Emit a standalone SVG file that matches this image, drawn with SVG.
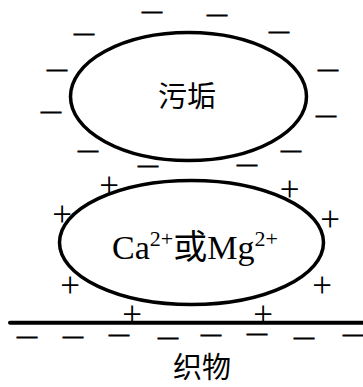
<svg xmlns="http://www.w3.org/2000/svg" width="363" height="387" viewBox="0 0 363 387">
<style>
.ell{fill:none;stroke:#000;stroke-width:3.5}
.cjk{font-family:"Liberation Serif","Noto Sans CJK SC",serif;font-size:29px;fill:#000}
.lab{font-family:"Liberation Serif","Noto Sans CJK SC",serif;font-size:34px;fill:#000}
.sup{font-size:22px}
.m{font-family:"Liberation Serif",serif;font-size:20px;fill:#000;stroke:#000;stroke-width:0.9;text-anchor:middle}
.p{font-family:"Liberation Serif",serif;font-size:35px;fill:#000;text-anchor:middle}
</style>
<rect width="363" height="387" fill="#fff"/>
<g id="dirt">
<ellipse class="ell" cx="188.5" cy="96.5" rx="118" ry="64"/>
<text class="cjk" x="187" y="107" text-anchor="middle">污垢</text>
</g>
<g id="dirt-charges">
<text class="m" x="152" y="17.6">—</text>
<text class="m" x="217" y="20.6">—</text>
<text class="m" x="84" y="39.6">—</text>
<text class="m" x="279" y="37.6">—</text>
<text class="m" x="57" y="75.6">—</text>
<text class="m" x="328" y="75.6">—</text>
<text class="m" x="51" y="117.6">—</text>
<text class="m" x="326" y="121.6">—</text>
<text class="m" x="88" y="156.6">—</text>
<text class="m" x="291" y="156.6">—</text>
<text class="m" x="148" y="171.6">—</text>
<text class="m" x="247" y="170.6">—</text>
</g>
<g id="ion">
<ellipse class="ell" cx="191.5" cy="242.5" rx="132" ry="62"/>
<text class="lab" x="112" y="259">Ca<tspan class="sup" dy="-13">2+</tspan><tspan dy="13">或Mg</tspan><tspan class="sup" dy="-13">2+</tspan></text>
</g>
<g id="ion-charges">
<text class="p" x="109" y="197">+</text>
<text class="p" x="289.5" y="201">+</text>
<text class="p" x="62" y="226">+</text>
<text class="p" x="330" y="231">+</text>
<text class="p" x="70" y="297">+</text>
<text class="p" x="322" y="297">+</text>
<text class="p" x="132" y="326">+</text>
<text class="p" x="263" y="326">+</text>
</g>
<g id="fabric">
<line x1="10" y1="322.7" x2="363" y2="322.7" stroke="#000" stroke-width="4" stroke-linecap="round"/>
<text class="m" x="27" y="342.8">—</text>
<text class="m" x="73" y="342.8">—</text>
<text class="m" x="119" y="341.3">—</text>
<text class="m" x="168" y="343.8">—</text>
<text class="m" x="211" y="341.3">—</text>
<text class="m" x="257" y="340.3">—</text>
<text class="m" x="304" y="343.8">—</text>
<text class="m" x="353" y="341.3">—</text>
<text class="cjk" x="202" y="378" text-anchor="middle">织物</text>
</g>
<g id="connectors"></g>
</svg>
